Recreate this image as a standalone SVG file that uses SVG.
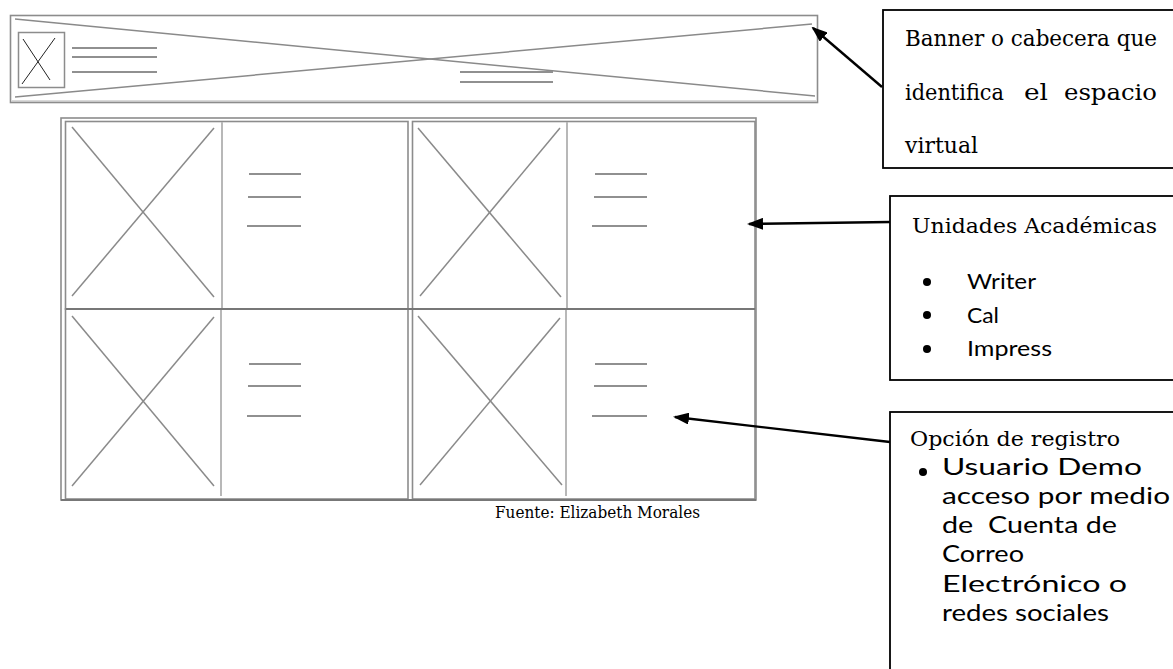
<svg xmlns="http://www.w3.org/2000/svg" width="1173" height="669" viewBox="0 0 1173 669">
<style>
.frame{fill:none;stroke:#8c8c8c;stroke-width:1.6}
.frameL{fill:none;stroke:#b4b4b4;stroke-width:1.2}
.gx{stroke:#8a8a8a;stroke-width:1.5;fill:none}
.div{stroke:#b8b8b8;stroke-width:2;fill:none}
.tl{stroke:#909090;stroke-width:2;fill:none}
.box{fill:#fff;stroke:#000;stroke-width:1.8}
.conn{stroke:#000;stroke-width:2.4;fill:none}
.serif{font-family:"DejaVu Serif","Liberation Serif",serif;fill:#000}
.sans{font-family:Lato,"Open Sans","Liberation Sans",sans-serif;fill:#000}
</style>
<defs>
<marker id="ah" markerWidth="16" markerHeight="12" refX="14" refY="6" orient="auto" markerUnits="userSpaceOnUse">
<path d="M0,0 L16,6 L0,12 Z" fill="#000"/>
</marker>
</defs>
<rect width="1173" height="669" fill="#fff"/>

<g id="banner">
<rect class="frame" x="10.5" y="15.5" width="807" height="87"/>
<line class="frameL" x1="12" y1="101" x2="816" y2="101"/>
<line class="gx" x1="15" y1="19" x2="815" y2="96"/>
<line class="gx" x1="15" y1="97" x2="812" y2="24"/>
<rect x="18.5" y="32.5" width="46" height="55" fill="#fff" stroke="#8c8c8c" stroke-width="1.5"/>
<line x1="23" y1="39" x2="50" y2="80" stroke="#222" stroke-width="1"/>
<line x1="55" y1="38" x2="22" y2="84" stroke="#222" stroke-width="1"/>
<line class="tl" x1="72" y1="48" x2="157" y2="48"/>
<line class="tl" x1="72" y1="57" x2="157" y2="57"/>
<line class="tl" x1="72" y1="72" x2="157" y2="72"/>
<line class="tl" x1="460" y1="72" x2="553" y2="72"/>
<line class="tl" x1="460" y1="82" x2="553" y2="82"/>
</g>

<g id="grid">
<rect class="frame" x="61" y="118" width="695" height="382"/>
<g id="cell-tl">
<rect class="frame" x="65.5" y="121.5" width="342.5" height="187.5"/>
<line class="gx" x1="72" y1="127" x2="214" y2="297"/>
<line class="gx" x1="214" y1="128" x2="72" y2="296"/>
<line class="div" x1="222" y1="122" x2="222" y2="308"/>
<line class="tl" x1="249" y1="174" x2="301" y2="174"/>
<line class="tl" x1="248" y1="197" x2="301" y2="197"/>
<line class="tl" x1="247" y1="226" x2="301" y2="226"/>
</g>
<g id="cell-tr">
<rect class="frame" x="412.5" y="121.5" width="342.5" height="187.5"/>
<line class="gx" x1="418" y1="128" x2="561" y2="297"/>
<line class="gx" x1="560" y1="128" x2="420" y2="296"/>
<line class="div" x1="567" y1="122" x2="567" y2="308"/>
<line class="tl" x1="595" y1="174" x2="647" y2="174"/>
<line class="tl" x1="594" y1="197" x2="647" y2="197"/>
<line class="tl" x1="592" y1="226" x2="647" y2="226"/>
</g>
<g id="cell-bl">
<rect class="frame" x="65.5" y="309" width="342.5" height="190"/>
<line class="gx" x1="72" y1="316" x2="214" y2="486"/>
<line class="gx" x1="214" y1="317" x2="72" y2="486"/>
<line class="div" x1="221" y1="310" x2="221" y2="496"/>
<line class="tl" x1="249" y1="364" x2="301" y2="364"/>
<line class="tl" x1="248" y1="386" x2="301" y2="386"/>
<line class="tl" x1="247" y1="416" x2="301" y2="416"/>
</g>
<g id="cell-br">
<rect class="frame" x="412.5" y="309" width="342.5" height="190"/>
<line class="gx" x1="418" y1="316" x2="562" y2="485"/>
<line class="gx" x1="560" y1="318" x2="420" y2="485"/>
<line class="div" x1="566" y1="310" x2="566" y2="496"/>
<line class="tl" x1="595" y1="364" x2="647" y2="364"/>
<line class="tl" x1="594" y1="386" x2="647" y2="386"/>
<line class="tl" x1="592" y1="416" x2="647" y2="416"/>
</g>
<line x1="66" y1="309" x2="755" y2="309" stroke="#777" stroke-width="2"/>
<line x1="61" y1="500" x2="756" y2="500" stroke="#777" stroke-width="2"/>
</g>

<text id="fuente" class="serif" x="495" y="518" font-size="17" textLength="205" lengthAdjust="spacingAndGlyphs">Fuente: Elizabeth Morales</text>

<g id="connectors">
<line class="conn" x1="882" y1="87" x2="813" y2="28" marker-end="url(#ah)"/>
<line class="conn" x1="890" y1="222" x2="749" y2="224" marker-end="url(#ah)"/>
<line class="conn" x1="890" y1="442" x2="675" y2="417" marker-end="url(#ah)"/>
</g>

<g id="note-banner">
<rect class="box" x="883" y="10" width="300" height="158"/>
<text class="serif" x="905" y="46" font-size="22" textLength="252" lengthAdjust="spacingAndGlyphs">Banner o cabecera que</text>
<text class="serif" y="100" font-size="22"><tspan x="905" textLength="99" lengthAdjust="spacingAndGlyphs">identifica</tspan><tspan x="1024" textLength="24" lengthAdjust="spacingAndGlyphs">el</tspan><tspan x="1064" textLength="93" lengthAdjust="spacingAndGlyphs">espacio</tspan></text>
<text class="serif" x="905" y="153" font-size="22" textLength="73" lengthAdjust="spacingAndGlyphs">virtual</text>
</g>

<g id="note-unidades">
<rect class="box" x="890" y="196" width="300" height="184"/>
<text class="serif" x="912" y="233" font-size="21" textLength="245" lengthAdjust="spacingAndGlyphs">Unidades Académicas</text>
<circle cx="927" cy="282" r="4" fill="#000"/>
<circle cx="927" cy="315" r="4" fill="#000"/>
<circle cx="927" cy="349" r="4" fill="#000"/>
<text class="sans" x="967" y="289" font-size="21" textLength="69" lengthAdjust="spacingAndGlyphs">Writer</text>
<text class="sans" x="967" y="323" font-size="21" textLength="32" lengthAdjust="spacingAndGlyphs">Cal</text>
<text class="sans" x="967" y="356" font-size="21" textLength="85" lengthAdjust="spacingAndGlyphs">Impress</text>
</g>

<g id="note-registro">
<rect class="box" x="890" y="412" width="300" height="280"/>
<text class="serif" x="910" y="446" font-size="21" textLength="210" lengthAdjust="spacingAndGlyphs">Opción de registro</text>
<circle cx="923" cy="472" r="4" fill="#000"/>
<text class="sans" x="942" y="475" font-size="24" textLength="200" lengthAdjust="spacingAndGlyphs">Usuario Demo</text>
<text class="sans" x="942" y="504" font-size="24" textLength="228" lengthAdjust="spacingAndGlyphs">acceso por medio</text>
<text class="sans" x="942" y="533" font-size="24" textLength="175" lengthAdjust="spacingAndGlyphs" xml:space="preserve">de  Cuenta de</text>
<text class="sans" x="942" y="562" font-size="24" textLength="82" lengthAdjust="spacingAndGlyphs">Correo</text>
<text class="sans" x="942" y="592" font-size="24" textLength="185" lengthAdjust="spacingAndGlyphs">Electrónico o</text>
<text class="sans" x="942" y="621" font-size="24" textLength="167" lengthAdjust="spacingAndGlyphs">redes sociales</text>
</g>
</svg>
